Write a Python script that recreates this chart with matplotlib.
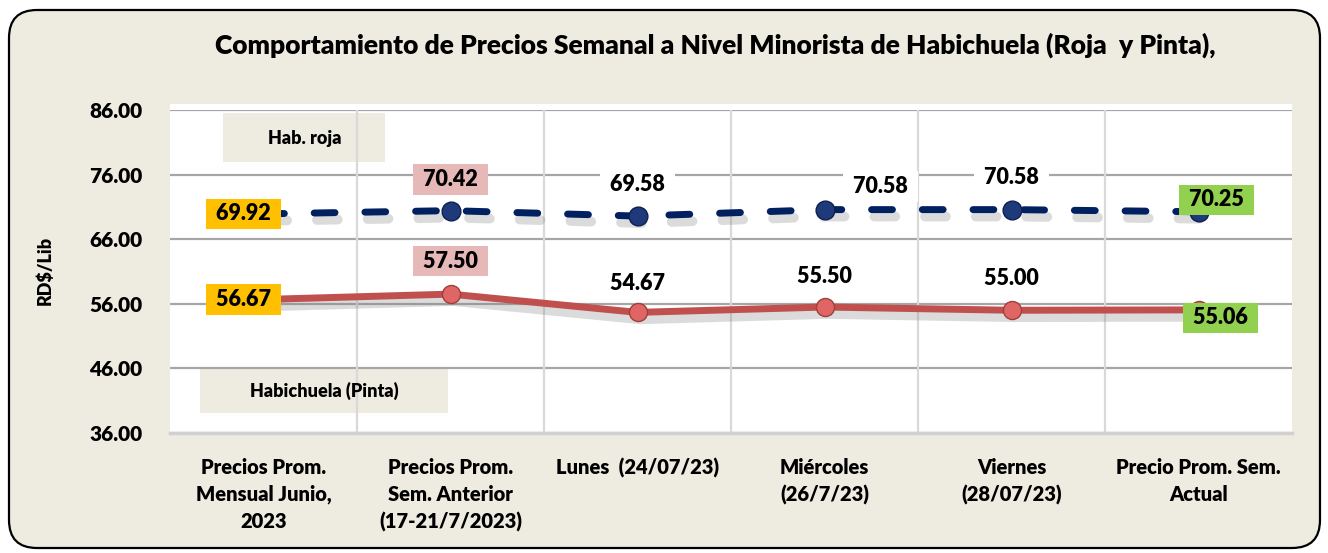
import numpy as np
import matplotlib
matplotlib.use("Agg")
import matplotlib.pyplot as plt
from matplotlib.patches import FancyBboxPatch, Rectangle
from matplotlib.transforms import IdentityTransform
import matplotlib.patheffects as pe

plt.rcParams['font.family'] = ['Lato', 'DejaVu Sans']
PESO = "heavy"

# datos del grafico
categorias = ["Precios Prom.\nMensual Junio,\n2023",
              "Precios Prom.\nSem. Anterior\n(17-21/7/2023)",
              "Lunes  (24/07/23)",
              "Miércoles\n(26/7/23)",
              "Viernes\n(28/07/23)",
              "Precio Prom. Sem.\nActual"]
roja = [69.92, 70.42, 69.58, 70.58, 70.58, 70.25]
pinta = [56.67, 57.50, 54.67, 55.50, 55.00, 55.06]
y_ticks = [36, 46, 56, 66, 76, 86]

# colores de las etiquetas por punto
box_colors = ["#FFC000", "#E6B8B7", None, None, None, "#92D050"]
roja_off = [(-20, 0), (0, 31), (0, 32), (56, 23), (0, 32), (18, 12)]
pinta_off = [(-20, 0), (0, 33), (0, 29), (0, 31), (0, 32), (22, -8)]

W, H = 1328, 553
fig = plt.figure(figsize=(W / 100, H / 100), dpi=100)
fig.patch.set_facecolor("white")

# marco redondeado
marco = FancyBboxPatch((9, 5), 1311, 538, boxstyle="round,pad=0,rounding_size=28",
                       transform=IdentityTransform(), facecolor="#EEEBE0",
                       edgecolor="black", linewidth=1.6, zorder=0)
fig.patches.append(marco)

# fondo blanco del area de trazado
fig.patches.append(Rectangle((170, H - 433), 1122, 329, transform=IdentityTransform(),
                             facecolor="white", edgecolor="none", zorder=0.5))
# cuadros de nombre de serie
fig.patches.append(Rectangle((223, H - 162), 162, 49, transform=IdentityTransform(),
                             facecolor="#EEEBE0", edgecolor="none", zorder=0.8))
fig.patches.append(Rectangle((200, H - 413), 248, 45, transform=IdentityTransform(),
                             facecolor="#EEEBE0", edgecolor="none", zorder=0.8))

ax = fig.add_axes([170 / W, 1 - 433 / H, 1122 / W, 323 / H])
ax.set_zorder(2)
ax.set_facecolor("none")
x = np.arange(len(categorias))
ax.set_xlim(-0.5, len(categorias) - 0.5)
ax.set_ylim(36, 86)

ax.set_yticks(y_ticks)
ax.set_yticklabels([f"{v:.2f}" for v in y_ticks], fontsize=15, fontweight=PESO)
ax.set_xticks(x)
ax.set_xticklabels(categorias, fontsize=14.5, fontweight=PESO, linespacing=1.5)
ax.tick_params(length=0)
ax.tick_params(axis="y", pad=20)
ax.tick_params(axis="x", pad=18)

for s in ["top", "right", "left"]:
    ax.spines[s].set_visible(False)
ax.spines["bottom"].set_color("#D0D0D0")
ax.spines["bottom"].set_linewidth(2.5)

ax.grid(axis="y", color="#A6A6A6", linewidth=1.6, zorder=1)
for xv in np.arange(0.5, len(categorias) - 0.5, 1):
    ax.axvline(xv, color="#D9D9D9", linewidth=1.6, zorder=1)
ax.set_axisbelow(True)

sombra = [pe.SimpleLineShadow(offset=(2, -5), shadow_color="#808080", alpha=0.28, linewidth=7), pe.Normal()]

ax.plot(x, roja, color="#002060", linewidth=5, dashes=(3, 4.3),
        solid_capstyle="round", dash_capstyle="round", zorder=3, path_effects=sombra)
ax.plot(x, roja, linestyle="none", marker="o", markersize=13.5, markerfacecolor="#1F3A7A",
        markeredgecolor="#0D1F4F", markeredgewidth=1, zorder=4)

ax.plot(x, pinta, color="#C0504D", linewidth=5, zorder=3, path_effects=sombra)
ax.plot(x, pinta, linestyle="none", marker="o", markersize=13, markerfacecolor="#E06666",
        markeredgecolor="#A03F3C", markeredgewidth=1, zorder=4)

def etiquetas(valores, offsets):
    for i, v in enumerate(valores):
        color = box_colors[i] if box_colors[i] else "white"
        ax.annotate(f" {v:.2f} ", (x[i], v), xytext=offsets[i], textcoords="offset pixels",
                    ha="center", va="center", fontsize=15.5, fontweight=PESO,
                    bbox=dict(boxstyle="square,pad=0.22", facecolor=color, edgecolor="none"),
                    zorder=6)

etiquetas(roja, roja_off)
etiquetas(pinta, pinta_off)

ax.annotate("Hab. roja", (0, 86), xytext=(304 - 263, -28), textcoords="offset pixels",
            ha="center", va="center", fontsize=13, fontweight=PESO, zorder=6)
ax.annotate("Habichuela (Pinta)", (0, 36), xytext=(324 - 263, 42), textcoords="offset pixels",
            ha="center", va="center", fontsize=13, fontweight=PESO, zorder=6)

fig.text(715 / W, 1 - 45 / H,
         "Comportamiento de Precios Semanal a Nivel Minorista de Habichuela (Roja  y Pinta),",
         ha="center", va="center", fontsize=19, fontweight=PESO)
fig.text(45 / W, 1 - 270 / H, "RD$/Lib", rotation=90, ha="center", va="center",
         fontsize=13, fontweight=PESO)

fig.savefig("out.png", dpi=100)
